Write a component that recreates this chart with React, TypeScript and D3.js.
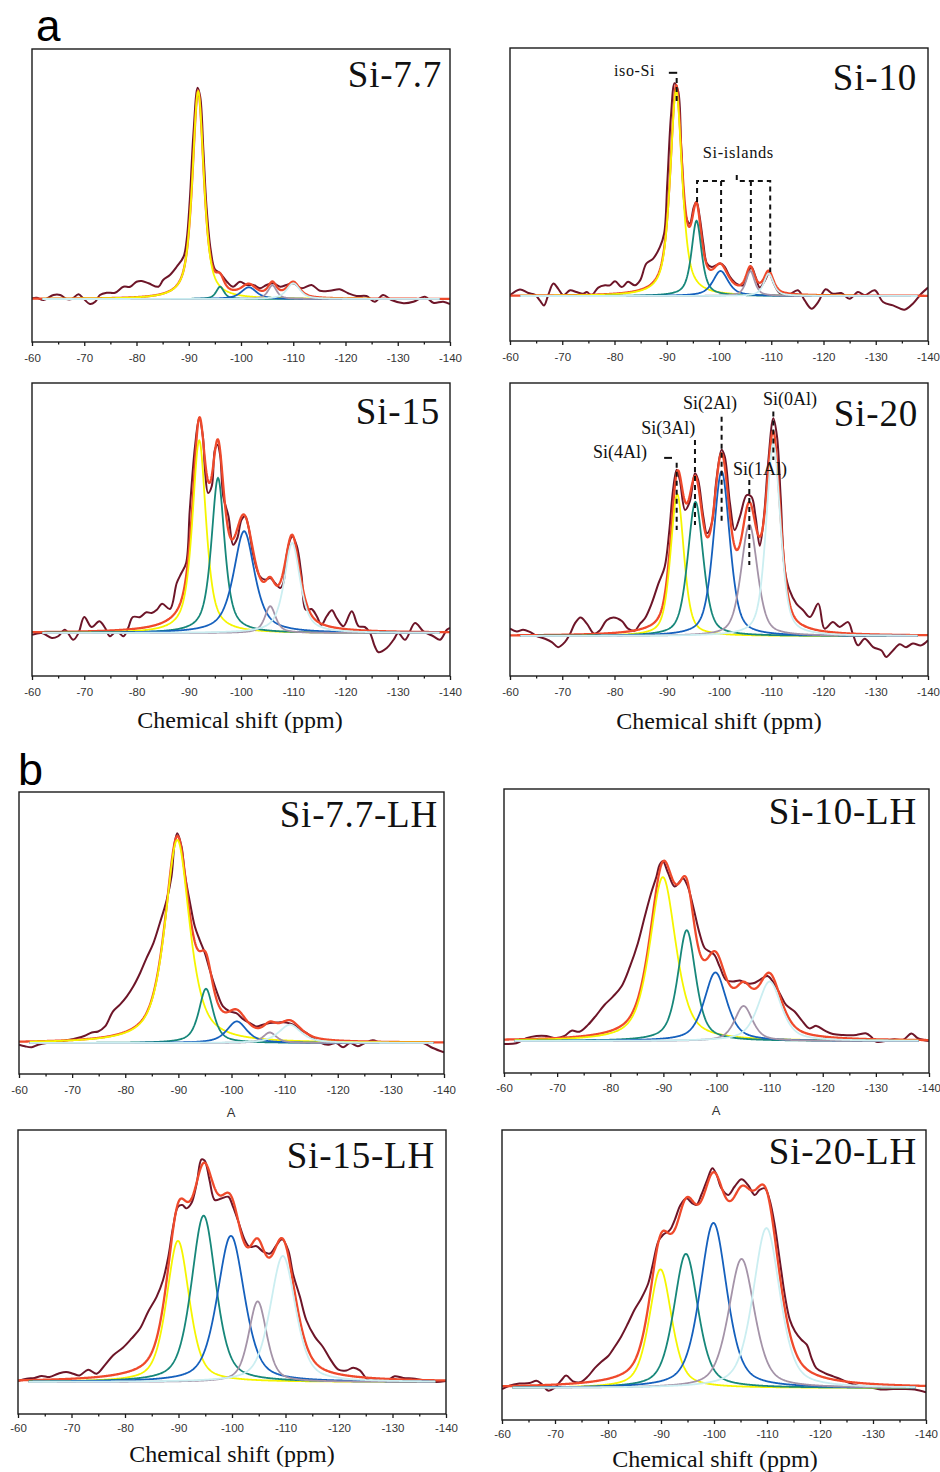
import { useEffect, useRef } from "react";
import * as d3 from "d3";

type Pt = [number, number];

const W = 940, H = 1472;
const MAJOR_TICKS = [-60, -70, -80, -90, -100, -110, -120, -130, -140];
const MINOR_TICKS = [-65, -75, -85, -95, -105, -115, -125, -135];

const C = { exp: "#6d1528", fit: "#ef4a2c", frame: "#1a1a1a", tick: "#333", text: "#111" };
// fitted component colours, in the order of the peak arrays below
const COMPONENT_COLORS = ["#f5f500", "#17877a", "#1560bd", "#a493a8", "#cbeef1"];
const SERIF = "'Liberation Serif', 'Times New Roman', serif";
const SANS = "'Liberation Sans', Arial, sans-serif";

// ---- measured spectra: [ppm, relative intensity] ----
const EXP_SI77: Pt[] = [[-60,0.3],[-60.9,0.5],[-62.2,-0.4],[-64.1,1.6],[-65.4,1.6],[-66.6,0],[-67.6,0],[-68.9,1.9],[-69.8,0.3],[-71.1,-2],[-72.1,-1.1],[-73,1.6],[-74.3,2.5],[-75.9,2.5],[-77.5,4.9],[-78.8,4.9],[-80,6.9],[-81,7.2],[-82.3,6.3],[-84.2,4.9],[-85.1,7.6],[-86.4,9.6],[-87.7,12.9],[-89,16.9],[-89.6,23.6],[-90.2,39.6],[-90.9,66.3],[-91.7,84.5],[-92.2,80.8],[-92.8,59.6],[-93.4,36.9],[-94.2,19.6],[-95,11.9],[-96,10.3],[-97.3,6.9],[-98.5,4.9],[-99.8,6.9],[-101.1,5.6],[-102.4,5.6],[-103.6,4.3],[-104.9,5.6],[-106.2,6.3],[-107.5,4.9],[-108.7,5.6],[-110,6.3],[-111.6,4.3],[-113.5,5.6],[-115.1,3.3],[-117,3.3],[-118.9,3.9],[-120.5,2.3],[-122.1,1.2],[-124,1.2],[-125.6,-1.1],[-127.2,1.6],[-128.8,-0.4],[-131.1,-1.7],[-133,-1.1],[-135.2,0.9],[-136.8,-1.5],[-138.7,-1.1],[-140,-2]];
const EXP_SI10: Pt[] = [[-60,0.3],[-61.9,2.6],[-63.5,1.2],[-64.8,0.5],[-65.7,-1.8],[-66.5,-3.8],[-67.3,0.3],[-68.3,5],[-69.2,3],[-70.2,0.3],[-71.5,2.3],[-72.7,1.6],[-74,0.9],[-74.7,1.6],[-75.6,0.3],[-76.9,3.4],[-78.2,4.3],[-79.1,4.3],[-80.1,5.9],[-81.4,3.6],[-82.6,5.7],[-83.9,4.3],[-84.9,6.3],[-86.1,13.1],[-87.4,15.1],[-88.7,19.8],[-89.5,25.2],[-90.1,45.4],[-90.8,72.4],[-91.5,85.8],[-92.2,82.5],[-92.8,58.9],[-93.7,31.9],[-94.4,29.2],[-95.2,36],[-95.7,38],[-96.3,31.9],[-97,21.2],[-97.7,13.1],[-98.6,11.7],[-99.5,12.4],[-100.3,13.1],[-101.1,11.7],[-102.1,7.7],[-103.3,5],[-104.6,4.3],[-105.6,9.7],[-106.2,11.7],[-107,7.7],[-107.8,3.4],[-108.8,6.3],[-109.6,9.3],[-110.5,5],[-111.6,1.2],[-113.2,0.3],[-115.1,2.3],[-116.4,-1.8],[-117.7,-5.1],[-119,-2.4],[-120.4,2.7],[-121.8,0.9],[-123.4,1.2],[-125,-1.1],[-126.6,1.6],[-127.9,0.3],[-129.8,2.3],[-131.4,-2.4],[-133.3,-3.8],[-135.5,-5.5],[-137.1,-3.1],[-138.7,0.9],[-140,3.4]];
const EXP_SI15: Pt[] = [[-60,-0.7],[-61.9,0],[-63.8,-2],[-65,-1.3],[-66.3,1.3],[-67.9,-2.7],[-68.9,0],[-70,6.4],[-71.4,2.4],[-72.9,4.7],[-74,2],[-74.9,-1.3],[-76.2,0.7],[-77.5,-1.3],[-78.4,2],[-79.3,6.4],[-80.7,6.4],[-81.9,8.3],[-82.9,8],[-83.9,9.3],[-84.9,11.7],[-86.4,9.6],[-87.7,20],[-88.6,24],[-89.5,28],[-90.2,49.3],[-91.2,74.7],[-92,86],[-92.7,78.7],[-93.1,65.3],[-93.7,56],[-94.4,58.7],[-95,73.3],[-95.5,75.3],[-96,71.3],[-96.6,54.7],[-97.6,46.7],[-98.5,35.3],[-99.3,38],[-100.1,45.3],[-100.8,46.7],[-101.4,42.7],[-102.4,30.7],[-103.6,22.7],[-104.6,21.3],[-105.6,22],[-106.5,20],[-107.5,18],[-108.1,20],[-108.7,30.7],[-109.4,37.3],[-109.8,38.7],[-110.7,34.7],[-111.6,22.7],[-112.4,9.3],[-113.5,9.6],[-114.5,6.7],[-115.4,3.3],[-116.4,6.7],[-117.4,9.1],[-118.3,6],[-119.6,2.7],[-121.2,8.7],[-122.5,2.7],[-123.7,2.4],[-124.7,0],[-125.6,-5.3],[-126.3,-7.7],[-127.9,-6],[-129.2,-2.7],[-130.1,0],[-131.4,-2.7],[-133.3,4],[-134.9,0.7],[-136.8,-1.3],[-138.1,-2.7],[-139.4,1.3],[-140,2]];
const EXP_SI20: Pt[] = [[-60,2.9],[-61.3,1.8],[-62.5,2.5],[-63.8,1.6],[-65.1,0],[-66.7,-1.1],[-68,-2.4],[-69.2,-4.4],[-70.5,-2.4],[-71.5,0.9],[-72.4,4.9],[-73.5,7.3],[-74.7,4.9],[-76.1,0.9],[-77.2,2.2],[-78.5,6.2],[-79.8,7.3],[-81.4,5.9],[-82.6,2.9],[-83.9,2.2],[-84.9,4.9],[-85.8,6.9],[-87.1,12.8],[-88.4,20.7],[-89.6,27.3],[-90.5,41.9],[-91.2,57.7],[-91.9,65.7],[-92.5,61.7],[-93.5,49.8],[-94.4,53.1],[-95.4,64.3],[-96,61.7],[-97,47.2],[-97.7,40.6],[-98.6,44.5],[-99.5,61.7],[-100.5,73.6],[-101.1,70.9],[-102.1,52.4],[-103,41.9],[-104,47.2],[-105.3,55.7],[-106.2,55.1],[-107,47.2],[-107.8,35.7],[-108.6,47.2],[-109.4,68.3],[-110.4,86.1],[-111.1,78.9],[-111.8,55.1],[-112.6,26],[-113.5,18.1],[-114.8,12.8],[-116.1,10.2],[-117.4,7.5],[-119,12.8],[-120.2,2.9],[-121.8,5.5],[-123.1,3.6],[-124.7,5.5],[-125.6,0.9],[-126.6,-3.7],[-127.9,-1.1],[-129.5,-4.4],[-131.1,-5.7],[-132,-8.3],[-133.3,-5.7],[-134.6,-3.3],[-135.8,-4.4],[-137.1,-3],[-138.7,-3.7],[-140,-1.7]];
const EXP_SI77_LH: Pt[] = [[-60,-0.7],[-61.1,-1.3],[-62.4,-1.7],[-63.6,-0.7],[-65.2,0],[-67.1,0.3],[-69,1.1],[-70.8,1.9],[-72.4,2.9],[-73.7,4.2],[-74.9,4.6],[-76.2,6.6],[-77.7,12.6],[-79,15.3],[-80.3,18.6],[-81.5,22.5],[-82.8,27.9],[-84,33.8],[-85.3,39.8],[-86.5,47.7],[-87.8,57],[-88.7,66.3],[-89.3,79.6],[-89.8,83.6],[-90.6,78.2],[-91.2,67.6],[-92.2,55.7],[-93.1,46.4],[-94,41.1],[-95,35.8],[-95.9,29.2],[-97.2,20.6],[-98.4,14.6],[-99.7,12.6],[-100.9,11.9],[-102.2,9.5],[-103.4,8],[-104.7,6.6],[-105.9,7.3],[-107.2,8],[-108.8,8.2],[-110.3,8.2],[-111.6,7.3],[-112.9,5.3],[-114.1,4],[-115.4,1.9],[-116.6,0.3],[-118.2,-0.7],[-119.7,0],[-121,-1.7],[-122.3,0],[-123.8,-1.3],[-125.1,0],[-126.6,1.1],[-128.2,0],[-130.1,0.3],[-132,0.3],[-134.2,0],[-136.1,0],[-137.9,-2],[-140,-3.7]];
const EXP_SI10_LH: Pt[] = [[-60,-1.2],[-62.3,-0.9],[-64.2,1.1],[-66.1,2],[-68,2],[-69.8,1.1],[-71.4,2],[-72.7,4.1],[-74.2,3.7],[-75.8,6.4],[-77.4,10.3],[-78.9,14.3],[-80.5,17.6],[-82.1,21.6],[-83.7,29.5],[-85.2,38.8],[-86.5,49.4],[-87.7,58.7],[-88.7,65.3],[-89.3,69.9],[-89.9,71.3],[-90.9,66.6],[-92.1,61.3],[-93.1,63.3],[-93.7,64.6],[-94.6,61.3],[-95.6,53.4],[-96.8,42.8],[-97.8,36.8],[-98.7,35.5],[-99.6,34.2],[-100.6,29.5],[-101.8,24.2],[-103.1,23.6],[-104.4,24],[-105.6,22.9],[-106.9,22.9],[-108.1,24.2],[-109.6,25.8],[-110.6,23.6],[-111.9,18.9],[-113.1,14.3],[-114.7,11.7],[-116,8.3],[-117.5,5],[-118.8,6],[-120.4,4.1],[-121.9,2.8],[-123.8,2.4],[-126.3,2.4],[-128.2,3],[-129.1,1.7],[-130.1,-0.3],[-132,0.1],[-133.5,0.7],[-135.1,0.4],[-136.7,3],[-137.9,1.1],[-140,0]];
const EXP_SI15_LH: Pt[] = [[-60,0.4],[-61.6,1.3],[-63.1,1.6],[-64.4,2.4],[-65.9,2],[-67.5,3.3],[-69,4],[-70.3,3.3],[-71.5,2.6],[-73.1,4.9],[-74.7,3.3],[-76.2,6.6],[-77.8,10.6],[-79.6,13.6],[-81.2,17.2],[-82.8,21.2],[-84.3,27.8],[-85.9,33.8],[-87.1,40.4],[-88.1,49.7],[-89,61.6],[-89.9,69.5],[-90.7,70.2],[-91.5,68.9],[-92.4,70.9],[-93.4,78.8],[-94.3,88.3],[-94.9,87.8],[-95.8,80.1],[-96.8,72.2],[-98,72.8],[-99.3,73.5],[-100.2,69.5],[-101.1,64.2],[-102.4,56.3],[-103.3,53.6],[-104.6,53.9],[-105.8,51.7],[-107.1,51],[-108.3,54.3],[-109.4,56.6],[-110.5,52.3],[-111.4,43],[-112.7,33.8],[-113.9,24.5],[-115.5,17.9],[-117,13.9],[-118.3,9.3],[-119.9,4.9],[-121.4,4.6],[-122.7,5.7],[-123.9,4.6],[-125.5,0.7],[-127,0.7],[-128.9,0.4],[-130.4,2.3],[-132,1.6],[-134.2,1.3],[-136.4,0.4],[-138.2,0],[-140,0.4]];
const EXP_SI20_LH: Pt[] = [[-60,-0.4],[-61.4,0.9],[-63.3,1.7],[-65.2,1.9],[-66.5,2.8],[-67.4,1.7],[-68.7,-1],[-69.9,0],[-71.2,3],[-72.1,4.8],[-73.4,2.6],[-74.7,2.2],[-76.2,4.5],[-77.5,7.7],[-78.8,10.3],[-80,12.3],[-81.3,16.1],[-82.5,20],[-83.8,25.2],[-85,30.3],[-86.3,34.8],[-87.6,40.6],[-88.5,48.4],[-89.5,56.8],[-90.4,59.4],[-91.7,61.3],[-92.6,65.2],[-93.7,71],[-94.8,73.5],[-95.9,71.6],[-96.7,71],[-97.6,74.8],[-98.7,80.6],[-99.7,85.2],[-100.5,82.6],[-101.4,77.4],[-102.7,74.8],[-103.9,78.1],[-105.2,80.9],[-106.4,78.7],[-107.7,74.8],[-108.6,76.8],[-109.6,77.4],[-110.5,72.9],[-111.5,62.6],[-112.4,49.7],[-113.4,35.5],[-114.3,26.5],[-115.3,21.9],[-116.5,18.7],[-117.5,16.8],[-118.4,11.6],[-119.3,7.7],[-120.9,5.8],[-122.5,4.5],[-123.8,3.5],[-125.6,1.9],[-127.8,0.6],[-130,0],[-131.9,-0.6],[-133.8,-0.4],[-135.7,-0.4],[-137.9,-0.6],[-140,-1.7]];

// ---- deconvolution components: centre (ppm), height, FWHM (ppm) ----
// order: Si(4Al) yellow, Si(3Al) teal, Si(2Al) blue, Si(1Al) grey, Si(0Al) light cyan
const CENTER_SI77 = [-91.8, -96, -101.5, -106, -110];
const HEIGHT_SI77 = [83, 4.9, 4.7, 5.5, 6.3];
const FWHM_SI77 = [2.6, 1.8, 3.5, 2, 3];
const CENTER_SI10 = [-91.8, -95.7, -100.3, -106, -109.5];
const HEIGHT_SI10 = [83, 30.3, 10.1, 10.1, 9];
const FWHM_SI10 = [2.7, 2.3, 3.5, 2, 2.2];
const CENTER_SI15 = [-92, -95.6, -100.6, -105.6, -109.8];
const HEIGHT_SI15 = [77, 62, 40.7, 10.7, 36];
const FWHM_SI15 = [3.1, 3.0, 4.8, 2.5, 3.6];
const CENTER_SI20 = [-92, -95.5, -100.5, -105.8, -110.4];
const HEIGHT_SI20 = [56, 53, 65, 44, 76];
const FWHM_SI20 = [3.0, 3.5, 3.7, 3.7, 3.2];
const CENTER_SI77_LH = [-89.8, -95.2, -101, -107.2, -111];
const HEIGHT_SI77_LH = [80.9, 21.6, 8.6, 4.2, 7.3];
const FWHM_SI77_LH = [5.5, 3.2, 4.5, 3, 5];
const CENTER_SI10_LH = [-89.9, -94.4, -99.8, -105.1, -110];
const HEIGHT_SI10_LH = [65, 44, 27.2, 13.9, 23.6];
const FWHM_SI10_LH = [5.8, 4.0, 5.0, 4.0, 5.2];
const CENTER_SI15_LH = [-89.9, -94.7, -99.8, -104.8, -109.5];
const HEIGHT_SI15_LH = [56, 66, 58, 32, 50];
const FWHM_SI15_LH = [5.0, 5.4, 6.0, 4.0, 5.6];
const CENTER_SI20_LH = [-89.9, -94.7, -99.9, -105.2, -109.9];
const HEIGHT_SI20_LH = [46, 52, 64, 50, 62];
const FWHM_SI20_LH = [5.0, 5.4, 6.0, 5.8, 6.0];
// Lorentzian fraction of the pseudo-Voigt line shape, per sample
const LORENTZ_FRACTION = [0.7, 0.7, 0.7, 0.5, 0.7, 0.6, 0.5, 0.5];

// ---- annotations ----
const ISO_LABEL = { text: "iso-Si", ppm: -87.75, val: 88.7 };
const ISO_MARK: Pt[][] = [[[-90.4, 90], [-92.0, 90]], [[-91.9, 87.9], [-91.9, 77]]];
const ISLAND_LABEL = { text: "Si-islands", ppm: -96.9, val: 55.6 };
const ISLAND_BRACKET: Pt[][] = [
  [[-95.8, 37.9], [-95.8, 46.4], [-101.1, 46.4]],
  [[-103.4, 48.8], [-103.4, 46.4], [-109.8, 46.4], [-109.8, 9.7]],
  [[-100.4, 46.4], [-100.4, 15.7]],
  [[-106.1, 46.4], [-106.1, 13.3]],
];
const SITE_LABELS = ["Si(4Al)", "Si(3Al)", "Si(2Al)", "Si(1Al)", "Si(0Al)"];
const SITE_LABEL_PPM = [-75.9, -85.1, -93.1, -102.7, -108.4];
const SITE_LABEL_VAL = [70.2, 79.7, 89.6, 63.6, 91.3];
const SITE_PPM = [-91.9, -95.4, -100.5, -105.8, -110.4];
const SITE_LINE_TOP = [68.5, 77.5, 86.7, 61.7, 88.7];
const SITE_LINE_BOTTOM = [41.9, 43.9, 44.7, 28.1, 69.6];
const SITE4_DASH: Pt[] = [[-89.5, 70.4], [-91.0, 70.4]];

type Panel = {
  id: string; exp: Pt[]; centers: number[]; heights: number[]; fwhm: number[]; eta: number;
  x0: number; x1: number; top: number; base: number; bottom: number;
  titleX: number; titleY: number; tickPad: number;
  xLabel?: { x: number; y: number }; subA?: { x: number; y: number };
};

const PANELS: Panel[] = [
  { id: "Si-7.7", exp: EXP_SI77, centers: CENTER_SI77, heights: HEIGHT_SI77, fwhm: FWHM_SI77, eta: LORENTZ_FRACTION[0],
    x0: 32, x1: 450, top: 49, base: 299, bottom: 342, titleX: 442, titleY: 87, tickPad: 8 },
  { id: "Si-10", exp: EXP_SI10, centers: CENTER_SI10, heights: HEIGHT_SI10, fwhm: FWHM_SI10, eta: LORENTZ_FRACTION[1],
    x0: 510, x1: 928, top: 48, base: 296, bottom: 341, titleX: 917, titleY: 90, tickPad: 8 },
  { id: "Si-15", exp: EXP_SI15, centers: CENTER_SI15, heights: HEIGHT_SI15, fwhm: FWHM_SI15, eta: LORENTZ_FRACTION[2],
    x0: 32, x1: 450, top: 383, base: 633, bottom: 676, titleX: 440, titleY: 424, tickPad: 8, xLabel: { x: 240, y: 728 } },
  { id: "Si-20", exp: EXP_SI20, centers: CENTER_SI20, heights: HEIGHT_SI20, fwhm: FWHM_SI20, eta: LORENTZ_FRACTION[3],
    x0: 510, x1: 928, top: 383, base: 636, bottom: 676, titleX: 918, titleY: 426, tickPad: 8, xLabel: { x: 719, y: 729 } },
  { id: "Si-7.7-LH", exp: EXP_SI77_LH, centers: CENTER_SI77_LH, heights: HEIGHT_SI77_LH, fwhm: FWHM_SI77_LH, eta: LORENTZ_FRACTION[4],
    x0: 19, x1: 444, top: 792, base: 1043, bottom: 1074, titleX: 438, titleY: 827, tickPad: 8, subA: { x: 231, y: 1117 } },
  { id: "Si-10-LH", exp: EXP_SI10_LH, centers: CENTER_SI10_LH, heights: HEIGHT_SI10_LH, fwhm: FWHM_SI10_LH, eta: LORENTZ_FRACTION[5],
    x0: 504, x1: 929, top: 789, base: 1041, bottom: 1073, titleX: 917, titleY: 824, tickPad: 7, subA: { x: 716, y: 1115 } },
  { id: "Si-15-LH", exp: EXP_SI15_LH, centers: CENTER_SI15_LH, heights: HEIGHT_SI15_LH, fwhm: FWHM_SI15_LH, eta: LORENTZ_FRACTION[6],
    x0: 18, x1: 446, top: 1130, base: 1382, bottom: 1414, titleX: 435, titleY: 1168, tickPad: 6, xLabel: { x: 232, y: 1462 } },
  { id: "Si-20-LH", exp: EXP_SI20_LH, centers: CENTER_SI20_LH, heights: HEIGHT_SI20_LH, fwhm: FWHM_SI20_LH, eta: LORENTZ_FRACTION[7],
    x0: 502, x1: 926, top: 1130, base: 1388, bottom: 1420, titleX: 917, titleY: 1164, tickPad: 6, xLabel: { x: 715, y: 1467 } },
];

// pseudo-Voigt line shape used by the fit
function pseudoVoigt(ppm: number, c: number, h: number, w: number, eta: number) {
  const d = (ppm - c) / (w / 2);
  return h * (eta / (1 + d * d) + (1 - eta) * Math.exp(-Math.LN2 * d * d));
}

const GRID = d3.range(-60, -140.01, -0.1);

function Axis({ x, y0, pad }: { x: d3.ScaleLinear<number, number>; y0: number; pad: number }) {
  const ref = useRef<SVGGElement>(null);
  useEffect(() => {
    const g = d3.select(ref.current);
    g.selectAll("*").remove();
    g.append("g").call(d3.axisBottom(x).tickValues(MAJOR_TICKS).tickSize(4).tickPadding(pad).tickFormat(d => `${d}`));
    g.append("g").call(d3.axisBottom(x).tickValues(MINOR_TICKS).tickSize(2.5).tickFormat(() => ""));
    g.selectAll(".domain").remove();
    g.selectAll(".tick line").attr("stroke", C.frame).attr("stroke-width", 1.3);
    g.selectAll(".tick text").attr("fill", C.tick).attr("font-size", 11.5).attr("font-family", SANS);
  }, [x, pad]);
  return <g ref={ref} transform={`translate(0,${y0})`} />;
}

function SpectrumPanel({ p, idx }: { p: Panel; idx: number }) {
  const x = d3.scaleLinear().domain([-60, -140]).range([p.x0, p.x1]);
  const y = d3.scaleLinear().domain([0, 100]).range([p.base, p.top]);
  const smooth = d3.line<Pt>().x(d => x(d[0])).y(d => y(d[1])).curve(d3.curveCatmullRom.alpha(0.5));
  const plain = d3.line<Pt>().x(d => x(d[0])).y(d => y(d[1]));

  const comps: Pt[][] = p.centers.map((c, i) =>
    GRID.filter(v => v <= -62 && v >= -138).map(v => [v, pseudoVoigt(v, c, p.heights[i], p.fwhm[i], p.eta)] as Pt));
  const fit: Pt[] = GRID.map(v => [v, d3.sum(p.centers, (c, i) => pseudoVoigt(v, c, p.heights[i], p.fwhm[i], p.eta))]);
  const clip = `clip-${idx}`;
  const dash = { stroke: "#111", strokeWidth: 2, strokeDasharray: "5,4", fill: "none" };

  return (
    <g>
      <defs>
        <clipPath id={clip}><rect x={p.x0} y={p.top} width={p.x1 - p.x0} height={p.bottom - p.top} /></clipPath>
      </defs>
      <g clipPath={`url(#${clip})`}>
        <path d={smooth(p.exp) ?? ""} fill="none" stroke={C.exp} strokeWidth={2} strokeLinejoin="round" />
        <path d={plain(fit) ?? ""} fill="none" stroke={C.fit} strokeWidth={2.3} strokeLinejoin="round" />
        {comps.map((pts, i) => (
          <path key={i} d={plain(pts) ?? ""} fill="none" stroke={COMPONENT_COLORS[i]} strokeWidth={1.8} />
        ))}
      </g>
      <rect x={p.x0} y={p.top} width={p.x1 - p.x0} height={p.bottom - p.top} fill="none" stroke={C.frame} strokeWidth={1.4} />
      <Axis x={x} y0={p.bottom} pad={p.tickPad} />
      <text x={p.titleX} y={p.titleY} textAnchor="end" fontFamily={SERIF} fontSize={37} letterSpacing={0.8} fill={C.text}>{p.id}</text>
      {p.xLabel && (
        <text x={p.xLabel.x} y={p.xLabel.y} textAnchor="middle" fontFamily={SERIF} fontSize={24} fill={C.text}>Chemical shift (ppm)</text>
      )}
      {p.subA && (
        <text x={p.subA.x} y={p.subA.y} textAnchor="middle" fontFamily={SANS} fontSize={13} fill={C.tick}>A</text>
      )}
      {p.id === "Si-10" && (
        <g>
          <text x={x(ISO_LABEL.ppm)} y={y(ISO_LABEL.val)} textAnchor="end" fontFamily={SERIF} fontSize={16} letterSpacing={0.6} fill={C.text}>{ISO_LABEL.text}</text>
          <path d={plain(ISO_MARK[0]) ?? ""} stroke="#111" strokeWidth={2} />
          <path d={plain(ISO_MARK[1]) ?? ""} {...dash} />
          <text x={x(ISLAND_LABEL.ppm)} y={y(ISLAND_LABEL.val)} fontFamily={SERIF} fontSize={16.5} letterSpacing={0.6} fill={C.text}>{ISLAND_LABEL.text}</text>
          {ISLAND_BRACKET.map((seg, i) => <path key={i} d={plain(seg) ?? ""} {...dash} />)}
        </g>
      )}
      {p.id === "Si-20" && (
        <g>
          {SITE_LABELS.map((s, i) => (
            <g key={s}>
              <text x={x(SITE_LABEL_PPM[i])} y={y(SITE_LABEL_VAL[i])} fontFamily={SERIF} fontSize={18} fill={C.text}>{s}</text>
              <path d={plain([[SITE_PPM[i], SITE_LINE_TOP[i]], [SITE_PPM[i], SITE_LINE_BOTTOM[i]]]) ?? ""} {...dash} />
            </g>
          ))}
          <path d={plain(SITE4_DASH) ?? ""} stroke="#111" strokeWidth={2} />
        </g>
      )}
    </g>
  );
}

export default function App() {
  return (
    <div style={{ position: "absolute", left: 0, top: 0, background: "#fff" }}>
      <svg width={W} height={H} style={{ display: "block", background: "#fff" }}>
        <text x={36} y={41} fontFamily={SANS} fontSize={44} fill="#000">a</text>
        <text x={18} y={785} fontFamily={SANS} fontSize={45} fill="#000">b</text>
        {PANELS.map((p, i) => <SpectrumPanel key={p.id} p={p} idx={i} />)}
      </svg>
    </div>
  );
}
